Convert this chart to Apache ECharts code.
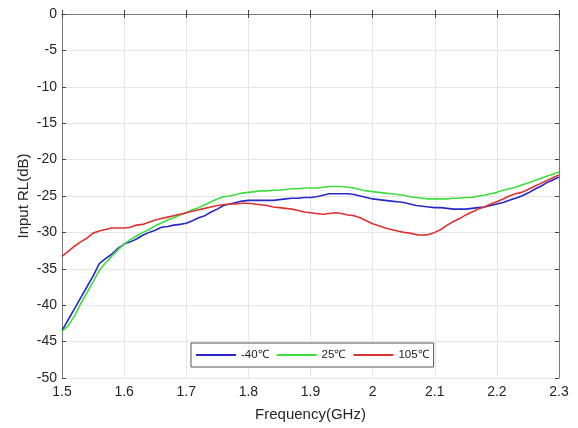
<!DOCTYPE html>
<html>
<head>
<meta charset="utf-8">
<script src="https://cdn.jsdelivr.net/npm/echarts@6/dist/echarts.min.js"></script>
<style>html,body{margin:0;padding:0;background:#fff;}#c{width:578px;height:428px;}</style>
</head>
<body>
<div id="c"></div>
<script>
const freq = [];
for (let i = 0; i <= 80; i++) freq.push(+(1.5 + i * 0.01).toFixed(2));
const seriesNames = ['-40℃', '25℃', '105℃'];
const rlMinus40 = [-43.5,-42.0,-40.5,-39.0,-37.5,-36.0,-34.3,-33.6,-33.0,-32.2,
 -31.6,-31.3,-30.9,-30.4,-30.0,-29.7,-29.3,-29.2,-29.0,-28.9,
 -28.75,-28.4,-28.0,-27.7,-27.2,-26.8,-26.3,-26.1,-25.9,-25.7,
 -25.6,-25.6,-25.6,-25.6,-25.6,-25.5,-25.4,-25.3,-25.3,-25.2,
 -25.2,-25.1,-24.9,-24.7,-24.7,-24.7,-24.7,-24.8,-25.0,-25.2,
 -25.4,-25.5,-25.6,-25.7,-25.8,-25.9,-26.1,-26.3,-26.4,-26.5,
 -26.6,-26.6,-26.7,-26.8,-26.8,-26.8,-26.7,-26.6,-26.5,-26.3,
 -26.1,-25.9,-25.6,-25.3,-25.0,-24.6,-24.1,-23.7,-23.2,-22.8,-22.4];
const rl25 = [-43.6,-42.8,-41.5,-39.8,-38.3,-36.8,-35.2,-34.2,-33.3,-32.4,
 -31.6,-31.0,-30.5,-30.0,-29.6,-29.1,-28.7,-28.3,-28.0,-27.6,
 -27.3,-26.9,-26.6,-26.2,-25.8,-25.4,-25.1,-25.0,-24.8,-24.6,
 -24.5,-24.4,-24.3,-24.3,-24.2,-24.2,-24.1,-24.0,-24.0,-23.9,
 -23.9,-23.9,-23.8,-23.7,-23.7,-23.7,-23.8,-23.9,-24.1,-24.3,
 -24.4,-24.5,-24.6,-24.7,-24.8,-24.9,-25.1,-25.2,-25.3,-25.4,
 -25.4,-25.4,-25.4,-25.3,-25.3,-25.2,-25.2,-25.0,-24.9,-24.7,
 -24.5,-24.2,-24.0,-23.8,-23.5,-23.2,-22.9,-22.6,-22.3,-22.0,-21.7];
const rl105 = [-33.3,-32.6,-31.9,-31.3,-30.8,-30.1,-29.8,-29.6,-29.4,-29.4,
 -29.4,-29.3,-29.0,-28.9,-28.6,-28.3,-28.1,-27.9,-27.7,-27.5,
 -27.3,-27.1,-26.9,-26.7,-26.5,-26.3,-26.2,-26.1,-26.1,-26.0,
 -26.0,-26.1,-26.2,-26.3,-26.5,-26.6,-26.7,-26.8,-27.0,-27.2,
 -27.3,-27.4,-27.5,-27.4,-27.3,-27.4,-27.6,-27.7,-28.0,-28.4,
 -28.8,-29.1,-29.4,-29.6,-29.8,-30.0,-30.1,-30.3,-30.4,-30.3,
 -30.0,-29.6,-29.0,-28.5,-28.1,-27.6,-27.2,-26.8,-26.5,-26.1,
 -25.8,-25.4,-25.0,-24.7,-24.5,-24.1,-23.7,-23.3,-22.9,-22.5,-22.1];
const xTicks = [1.5,1.6,1.7,1.8,1.9,2,2.1,2.2,2.3];
const yTicks = [0,-5,-10,-15,-20,-25,-30,-35,-40,-45,-50];

const colors = ['#2828c8', '#3ede3e', '#dc3232'];
const allData = [rlMinus40, rl25, rl105];
const chart = echarts.init(document.getElementById('c'));
const font = 'Liberation Sans, Arial, sans-serif';
const axisCommon = {
  type: 'value',
  axisLine: {show: true, lineStyle: {color: '#7a7a7a', width: 1}},
  axisTick: {show: true, inside: true, length: 4, lineStyle: {color: '#444'}},
};
chart.setOption({
  animation: false,
  backgroundColor: '#fff',
  grid: {left: 62, right: 19, top: 14, bottom: 50},
  legend: {
    left: 191, top: 343,
    padding: [6, 5, 6, 5],
    borderColor: '#555', borderWidth: 1, backgroundColor: '#fff',
    icon: 'rect', itemWidth: 40, itemHeight: 2, itemGap: 8,
    textStyle: {fontFamily: font, fontSize: 11.5, color: '#222'},
    data: seriesNames
  },
  xAxis: [
    Object.assign({}, axisCommon, {
      min: 1.5, max: 2.3, interval: 0.1, position: 'bottom',
      name: 'Frequency(GHz)', nameLocation: 'middle', nameGap: 29,
      nameMoveOverlap: false,
      nameTextStyle: {fontFamily: font, fontSize: 15, color: '#262626'},
      axisLabel: {fontFamily: font, fontSize: 14, color: '#262626', margin: 7,
        formatter: v => { const t = xTicks.find(x => Math.abs(x - v) < 1e-6); return t === undefined ? '' : String(t); }},
      splitLine: {show: true, lineStyle: {color: '#e6e6e6', width: 1}}
    }),
    Object.assign({}, axisCommon, {
      min: 1.5, max: 2.3, interval: 0.1, position: 'top',
      axisLabel: {show: false}, splitLine: {show: false}
    })
  ],
  yAxis: [
    Object.assign({}, axisCommon, {
      min: -50, max: 0, interval: 5, position: 'left',
      name: 'Input RL(dB)', nameLocation: 'middle', nameGap: 31,
      nameMoveOverlap: false,
      nameTextStyle: {fontFamily: font, fontSize: 15, color: '#262626'},
      axisLabel: {fontFamily: font, fontSize: 14, color: '#262626', margin: 5,
        formatter: v => { const t = yTicks.find(y => Math.abs(y - v) < 1e-6); return t === undefined ? '' : String(t); }},
      splitLine: {show: true, lineStyle: {color: '#e6e6e6', width: 1}}
    }),
    Object.assign({}, axisCommon, {
      min: -50, max: 0, interval: 5, position: 'right',
      axisLabel: {show: false}, splitLine: {show: false}
    })
  ],
  series: allData.map((arr, k) => ({
    name: seriesNames[k],
    type: 'line',
    xAxisIndex: 0, yAxisIndex: 0,
    showSymbol: false, symbol: 'none',
    lineStyle: {color: colors[k], width: 1.6},
    itemStyle: {color: colors[k]},
    data: freq.map((f, i) => [f, arr[i]])
  }))
});
</script>
</body>
</html>
